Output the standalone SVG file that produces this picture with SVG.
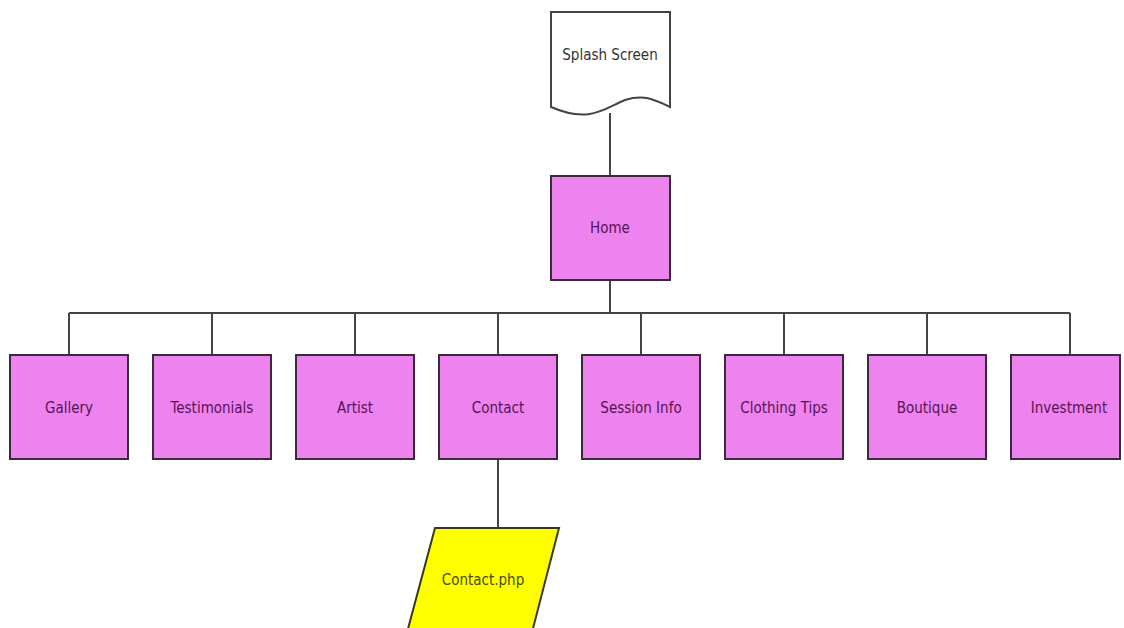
<svg xmlns="http://www.w3.org/2000/svg" width="1124" height="628" viewBox="0 0 1124 628">
<style>
.box{fill:#ee82ee;stroke:#3a2a3a;stroke-width:2}
.doc{fill:#ffffff;stroke:#444;stroke-width:2}
.io{fill:#ffff00;stroke:#3a3a1a;stroke-width:2}
.lbl{font-family:"DejaVu Sans Condensed","DejaVu Sans",sans-serif;font-size:15px;text-anchor:middle;dominant-baseline:central;fill:#561456}
.lbl2{font-family:"DejaVu Sans Condensed","DejaVu Sans",sans-serif;font-size:15px;text-anchor:middle;dominant-baseline:central;fill:#333}
.lbl3{font-family:"DejaVu Sans Condensed","DejaVu Sans",sans-serif;font-size:15px;text-anchor:middle;dominant-baseline:central;fill:#4a4a00}
.c{fill:none;stroke:#444;stroke-width:2}
</style>
<rect width="1124" height="628" fill="#ffffff"/>
<g id="connectors">
<path class="c" d="M610 113 V176"/>
<path class="c" d="M610 280 V313"/>
<path class="c" d="M69 313 H1070"/>
<path class="c" d="M69 313 V355 M212 313 V355 M355 313 V355 M498 313 V355 M641 313 V355 M784 313 V355 M927 313 V355 M1070 313 V355"/>
<path class="c" d="M498 459 V528"/>
</g>
<g id="splash">
<path class="doc" d="M551 12 H670 V107 C655 100 645 94 625 100 C605 108 590 124 551 107 Z"/>
<text class="lbl2" x="610" y="55">Splash Screen</text>
</g>
<g id="home">
<rect class="box" x="551" y="176" width="119" height="104"/>
<text class="lbl" x="610" y="228">Home</text>
</g>
<g id="gallery">
<rect class="box" x="10" y="355" width="118" height="104"/>
<text class="lbl" x="69" y="408">Gallery</text>
</g>
<g id="testimonials">
<rect class="box" x="153" y="355" width="118" height="104"/>
<text class="lbl" x="212" y="408">Testimonials</text>
</g>
<g id="artist">
<rect class="box" x="296" y="355" width="118" height="104"/>
<text class="lbl" x="355" y="408">Artist</text>
</g>
<g id="contact">
<rect class="box" x="439" y="355" width="118" height="104"/>
<text class="lbl" x="498" y="408">Contact</text>
</g>
<g id="session">
<rect class="box" x="582" y="355" width="118" height="104"/>
<text class="lbl" x="641" y="408">Session Info</text>
</g>
<g id="clothing">
<rect class="box" x="725" y="355" width="118" height="104"/>
<text class="lbl" x="784" y="408">Clothing Tips</text>
</g>
<g id="boutique">
<rect class="box" x="868" y="355" width="118" height="104"/>
<text class="lbl" x="927" y="408">Boutique</text>
</g>
<g id="investment">
<rect class="box" x="1011" y="355" width="109" height="104"/>
<text class="lbl" x="1069" y="408">Investment</text>
</g>
<g id="contactphp">
<path class="io" d="M435 528 H559 L530 640 H405 Z"/>
<text class="lbl3" x="483" y="580">Contact.php</text>
</g>
</svg>
